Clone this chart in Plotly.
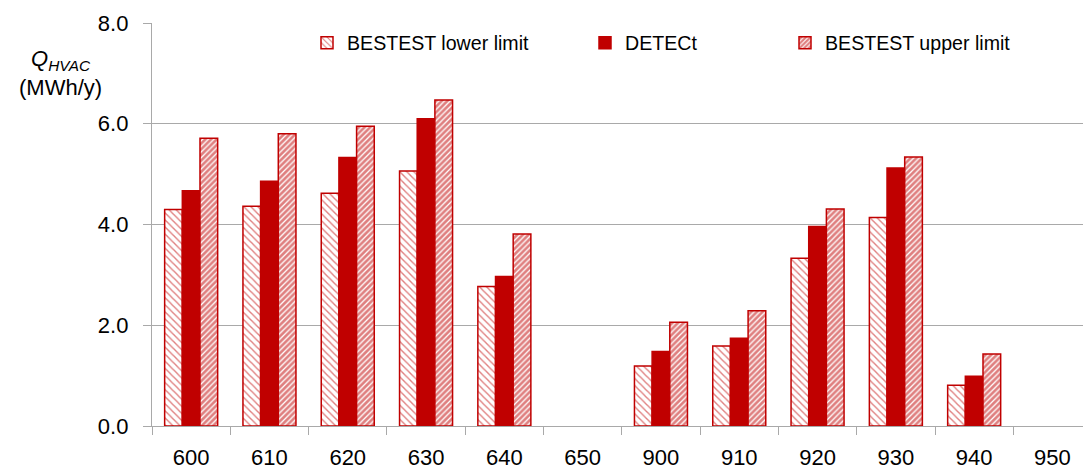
import plotly.graph_objects as go

# Test cases and annual HVAC energy (MWh/y)
cases = ["600", "610", "620", "630", "640", "650",
         "900", "910", "920", "930", "940", "950"]
bestest_lower = [4.30, 4.36, 4.62, 5.06, 2.77, None,
                 1.19, 1.59, 3.33, 4.14, 0.81, None]
detect = [4.67, 4.86, 5.33, 6.10, 2.97, None,
          1.48, 1.74, 3.96, 5.12, 0.99, None]
bestest_upper = [5.71, 5.80, 5.95, 6.47, 3.81, None,
                 2.06, 2.29, 4.31, 5.34, 1.43, None]

y_ticks = [0, 2, 4, 6, 8]
y_tick_text = ["0.0", "2.0", "4.0", "6.0", "8.0"]

RED = "#c00000"
GRID = "#a9a9a9"
FONT = "Liberation Sans, Arial, sans-serif"

W, H = 1083, 474
ML, MR, MT, MB = 152, 0, 23, 48
PW, PH = W - ML - MR, H - MT - MB

fig = go.Figure()

fig.add_trace(go.Bar(
    name="BESTEST lower limit", x=cases, y=bestest_lower,
    marker=dict(color="white",
                line=dict(color=RED, width=1.5),
                pattern=dict(shape="\\", fgcolor=RED, bgcolor="white",
                             size=5, solidity=0.28)),
    legend="legend",
))
fig.add_trace(go.Bar(
    name="DETECt", x=cases, y=detect,
    marker=dict(color=RED, line=dict(color=RED, width=1.5)),
    legend="legend2",
))
fig.add_trace(go.Bar(
    name="BESTEST upper limit", x=cases, y=bestest_upper,
    marker=dict(color="white",
                line=dict(color=RED, width=1.5),
                pattern=dict(shape="/", fgcolor=RED, bgcolor="white",
                             size=4, solidity=0.68)),
    legend="legend3",
))


def legend_at(px, py=43):
    # place a legend by page pixel position, inside the plot area
    return dict(
        orientation="h", xref="paper", yref="paper",
        x=(px - ML) / PW, xanchor="left",
        y=1 - (py - MT) / PH, yanchor="middle",
        bgcolor="rgba(0,0,0,0)",
        font=dict(family=FONT, size=19.6, color="black"),
    )


fig.update_layout(
    width=W, height=H,
    margin=dict(l=ML, r=MR, t=MT, b=MB),
    plot_bgcolor="white", paper_bgcolor="white",
    barmode="group", bargap=0.323, bargroupgap=0,
    font=dict(family=FONT, size=22, color="black"),
    showlegend=True,
    legend=legend_at(307),
    legend2=legend_at(585),
    legend3=legend_at(785),
    xaxis=dict(
        type="category", range=[-0.5, 11.39],
        showline=True, linecolor=GRID, linewidth=1.3,
        ticks="outside", tickson="boundaries", ticklen=8,
        tickcolor=GRID, tickwidth=1.3,
        showgrid=False, ticklabelstandoff=11,
        tickfont=dict(family=FONT, size=22, color="black"),
    ),
    yaxis=dict(
        range=[0, 8], tickvals=y_ticks, ticktext=y_tick_text,
        showline=True, linecolor=GRID, linewidth=1.3,
        ticks="outside", ticklen=8, tickcolor=GRID, tickwidth=1.3,
        showgrid=True, gridcolor=GRID, gridwidth=1.3,
        zeroline=False, ticklabelstandoff=10,
        tickfont=dict(family=FONT, size=22, color="black"),
    ),
    annotations=[dict(
        text="<i>Q<sub>HVAC</sub></i><br>(MWh/y)",
        xref="paper", yref="paper",
        x=-(ML - 60) / PW, y=1 - (73 - MT) / PH,
        xanchor="center", yanchor="middle", showarrow=False, align="center",
        font=dict(family=FONT, size=22, color="black"),
    )],
)

fig.write_html("out.html")
